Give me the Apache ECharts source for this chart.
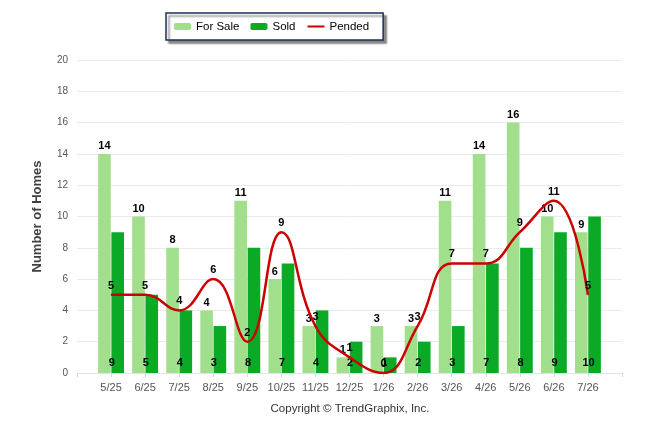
<!DOCTYPE html>
<html>
<head>
<meta charset="utf-8">
<script src="https://cdn.jsdelivr.net/npm/echarts@6/dist/echarts.min.js"></script>
<style>
html, body { margin: 0; padding: 0; background: #fff; }
#chart { width: 646px; height: 434px; }
</style>
</head>
<body>
<div id="chart"></div>
<script>
var months = ['5/25','6/25','7/25','8/25','9/25','10/25','11/25','12/25','1/26','2/26','3/26','4/26','5/26','6/26','7/26'];
var forSale = [14,10,8,4,11,6,3,1,3,3,11,14,16,10,9];
var sold = [9,5,4,3,8,7,4,2,1,2,3,7,8,9,10];
var pended = [5,5,4,6,2,9,3,1,0,3,7,7,9,11,5];
var yTicks = [0,2,4,6,8,10,12,14,16,18,20];

// empty slot at both ends, like the original axis
function pad(arr, v) { return [v].concat(arr).concat([v]); }

var font = 'Liberation Sans, Arial, sans-serif';
var labelStyle = { show: true, color: '#000', fontWeight: 'bold', fontSize: 11, fontFamily: font };

var myChart = echarts.init(document.getElementById('chart'));
var option = {
	animation: false,
	grid: { left: 77, right: 24, top: 60, bottom: 61 },
	legend: {
		left: 166, top: 13,
		padding: [6, 14, 6, 8],
		itemWidth: 17, itemHeight: 7, itemGap: 11,
		backgroundColor: '#fff',
		borderColor: '#1f3057', borderWidth: 1.5,
		shadowColor: 'rgba(0,0,0,0.45)', shadowBlur: 2, shadowOffsetX: 3, shadowOffsetY: 3,
		textStyle: { color: '#000', fontSize: 11.5, fontFamily: font, lineHeight: 15 },
		data: ['For Sale', 'Sold', { name: 'Pended', itemStyle: { opacity: 0 } }]
	},
	graphic: [{
		type: 'text', x: 350, y: 403,
		style: { text: 'Copyright © TrendGraphix, Inc.', fill: '#333', font: '11.5px ' + font, textAlign: 'center' }
	}],
	xAxis: {
		type: 'category',
		boundaryGap: false,
		data: pad(months, ''),
		axisLine: { lineStyle: { color: '#e3e3e3' } },
		axisTick: { length: 4, lineStyle: { color: '#d8d8d8' } },
		axisLabel: { color: '#555', fontSize: 11, margin: 9, fontFamily: font, interval: 0 }
	},
	yAxis: {
		type: 'value',
		min: yTicks[0], max: yTicks[yTicks.length - 1], interval: 2,
		name: 'Number of Homes',
		nameLocation: 'middle', nameGap: 33,
		nameTextStyle: { color: '#404040', fontSize: 13, fontWeight: 'bold', fontFamily: font },
		axisLine: { show: false },
		axisTick: { show: false },
		axisLabel: { color: '#555', fontSize: 10, margin: 9, fontFamily: font },
		splitLine: { lineStyle: { color: '#ebebeb' } }
	},
	series: [
		{
			name: 'For Sale', type: 'bar',
			data: pad(forSale, null),
			barGap: '5%', barCategoryGap: '24%',
			itemStyle: { color: '#a2df8c' },
			label: Object.assign({ position: 'top', distance: 2 }, labelStyle)
		},
		{
			name: 'Sold', type: 'bar',
			data: pad(sold, null),
			itemStyle: { color: '#0aaa26' },
			label: Object.assign({ position: 'insideBottom', distance: 5, offset: [-6, 0] }, labelStyle)
		},
		{
			name: 'Pended', type: 'line',
			data: pad(pended, null),
			smooth: 0.45,
			symbol: 'circle', symbolSize: 1,
			showSymbol: true,
			z: 5,
			lineStyle: { color: '#cc0000', width: 2.5 },
			itemStyle: { color: '#cc0000' },
			label: Object.assign({ position: 'top', distance: 3 }, labelStyle)
		}
	]
};
myChart.setOption(option);
</script>
</body>
</html>
